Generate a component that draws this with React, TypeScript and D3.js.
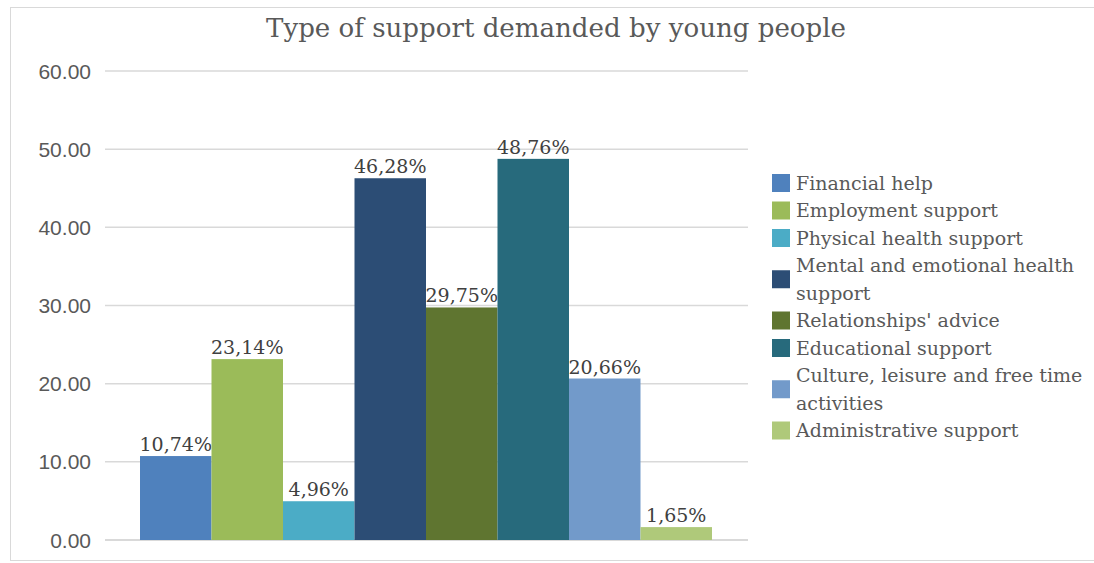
import React from "react";
import * as d3 from "d3";

const categories = [
  "Financial help",
  "Employment support",
  "Physical health support",
  "Mental and emotional health support",
  "Relationships' advice",
  "Educational support",
  "Culture, leisure and free time activities",
  "Administrative support",
];
const values = [10.74, 23.14, 4.96, 46.28, 29.75, 48.76, 20.66, 1.65];
const labels = ["10,74%", "23,14%", "4,96%", "46,28%", "29,75%", "48,76%", "20,66%", "1,65%"];
const colors = ["#4F81BD", "#9BBB59", "#4BACC6", "#2C4D75", "#5F7530", "#276A7C", "#729ACA", "#AFC97A"];
const legendLines = [
  ["Financial help"],
  ["Employment support"],
  ["Physical health support"],
  ["Mental and emotional health", "support"],
  ["Relationships' advice"],
  ["Educational support"],
  ["Culture, leisure and free time", "activities"],
  ["Administrative support"],
];
const yTicks = [0, 10, 20, 30, 40, 50, 60];

const W = 1094;
const H = 563;
const SERIF = "'DejaVu Serif', 'Liberation Serif', serif";
const SANS = "'Liberation Sans', 'DejaVu Sans', sans-serif";

export default function App() {
  const plotLeft = 105;
  const plotRight = 748;
  const y = d3.scaleLinear().domain([0, 60]).range([540, 71]);
  const x = d3.scaleBand<number>().domain(d3.range(categories.length)).range([140, 712]).padding(0);

  const lineH = 27.5;
  let ly = 183;
  const legendItems = legendLines.map((lines, i) => {
    const top = ly;
    const center = top + ((lines.length - 1) * lineH) / 2;
    ly += lines.length * lineH;
    return { lines, top, center, color: colors[i], key: i };
  });

  return (
    <svg width={W} height={H} style={{ position: "absolute", left: 0, top: 0 }}>
      <rect x={0} y={0} width={W} height={H} fill="#fff" />
      <rect x={10.5} y={7.5} width={W + 10} height={553} fill="#fff" stroke="#d9d9d9" />
      <text x={556} y={37} textAnchor="middle" fontFamily={SERIF} fontSize={26} fill="#595959" textLength={580} lengthAdjust="spacingAndGlyphs">
        Type of support demanded by young people
      </text>
      {yTicks.map((t) => (
        <g key={t}>
          <line x1={plotLeft} x2={plotRight} y1={y(t)} y2={y(t)} stroke="#d9d9d9" strokeWidth={t === 0 ? 2 : 1.5} />
          <text x={91} y={y(t)} dy="0.36em" textAnchor="end" fontFamily={SANS} fontSize={21} fill="#595959">
            {t.toFixed(2)}
          </text>
        </g>
      ))}
      {values.map((v, i) => (
        <g key={i}>
          <rect x={x(i)!} y={y(v)} width={x.bandwidth()} height={y(0) - y(v)} fill={colors[i]} />
          <text x={x(i)! + x.bandwidth() / 2} y={y(v) - 5} textAnchor="middle" fontFamily={SERIF} fontSize={19} fill="#404040">
            {labels[i]}
          </text>
        </g>
      ))}
      {legendItems.map((it) => (
        <g key={it.key}>
          <rect x={772} y={it.center - 9} width={18} height={18} fill={it.color} />
          {it.lines.map((l, j) => (
            <text key={j} x={796} y={it.top + j * lineH} dy="0.36em" fontFamily={SERIF} fontSize={19} fill="#595959">
              {l}
            </text>
          ))}
        </g>
      ))}
    </svg>
  );
}
